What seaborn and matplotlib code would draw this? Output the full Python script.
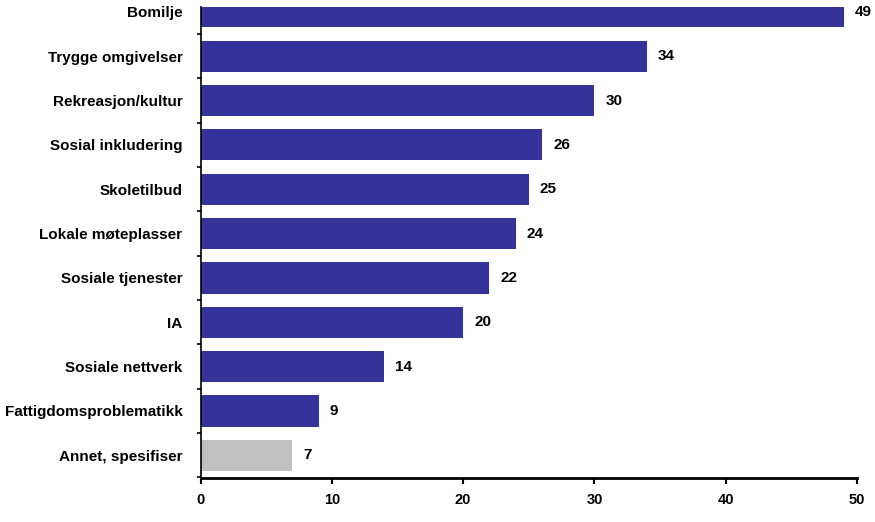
import matplotlib
matplotlib.use("Agg")
import matplotlib.pyplot as plt
import seaborn as sns
import pandas as pd

categories = ["Bomilje", "Trygge omgivelser", "Rekreasjon/kultur", "Sosial inkludering",
              "Skoletilbud", "Lokale møteplasser", "Sosiale tjenester", "IA",
              "Sosiale nettverk", "Fattigdomsproblematikk", "Annet, spesifiser"]
values = [49, 34, 30, 26, 25, 24, 22, 20, 14, 9, 7]
groups = ["main"] * 10 + ["other"]
x_ticks = [0, 10, 20, 30, 40, 50]

sns.set_theme(style="white")
plt.rcParams["font.family"] = ["Liberation Sans", "DejaVu Sans"]
plt.rcParams["font.weight"] = "bold"
plt.rcParams["text.color"] = "black"
plt.rcParams["xtick.color"] = "black"
plt.rcParams["ytick.color"] = "black"

df = pd.DataFrame({"category": categories, "value": values, "group": groups})

fig = plt.figure(figsize=(8.75, 5.22), dpi=100)
ax = fig.add_axes([200.5 / 875, 1 - 477.5 / 522, (857 - 200.5) / 875, (477.5 - 7) / 522])

sns.barplot(data=df, y="category", x="value", hue="group", orient="h",
            palette={"main": "#333399", "other": "#C0C0C0"}, width=0.70,
            dodge=False, legend=False, ax=ax, saturation=1, linewidth=0)

for i, v in enumerate(values):
    ax.text(v + 0.85, i, str(v), va="center", ha="left", fontsize=11,
            fontweight="bold", color="black")

ax.set_xlim(0, 50)
ax.set_ylim(10.46, -0.112)
ax.set_xticks(x_ticks)
ax.set_xticklabels([str(t) for t in x_ticks], fontsize=10.5, fontweight="bold", color="black")
ax.set_yticks(range(len(categories)))
ax.set_yticklabels(categories, fontsize=11, fontweight="bold", color="black")
ax.set_xlabel("")
ax.set_ylabel("")

# boundary ticks on the y axis
ax.set_yticks([i + 0.5 for i in range(len(categories))], minor=True)
ax.tick_params(axis="y", which="major", length=0, pad=13)
ax.tick_params(axis="y", which="minor", length=3, width=1.2, color="black", direction="out", left=True)
ax.tick_params(axis="x", which="major", length=4, width=1.5, color="black", direction="out", pad=7, bottom=True)

for side in ["top", "right"]:
    ax.spines[side].set_visible(False)
for side in ["left", "bottom"]:
    ax.spines[side].set_visible(True)
    ax.spines[side].set_color("black")
ax.spines["left"].set_linewidth(1.2)
ax.spines["bottom"].set_linewidth(2)
ax.grid(False)

fig.savefig("out.png", dpi=100)
